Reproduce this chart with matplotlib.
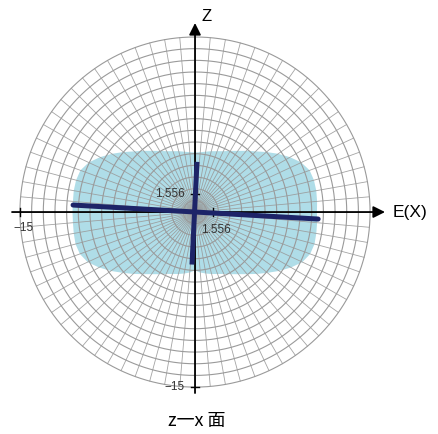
import numpy as np
import matplotlib
matplotlib.use("Agg")
import matplotlib.pyplot as plt

plt.rcParams['font.family'] = ['Liberation Sans', 'Noto Sans CJK JP', 'DejaVu Sans']

# Polar reference grid
ring_radii = list(range(1, 16))
spoke_angles_deg = list(range(0, 360, 5))

# Section envelope: radius at each angle (deg, counter-clockwise from +X)
envelope_angles_deg = list(range(0, 360, 5))
envelope_radius = [
    10.45, 10.50, 10.55, 10.55, 10.45, 10.05, 9.40, 8.70, 8.00, 7.35,
    6.85, 6.40, 6.05, 5.75, 5.55, 5.40, 5.25, 5.15, 5.10, 5.15,
    5.25, 5.40, 5.55, 5.75, 6.05, 6.40, 6.85, 7.35, 8.00, 8.70,
    9.40, 10.05, 10.45, 10.55, 10.55, 10.50, 10.50, 10.50, 10.55, 10.60,
    10.50, 10.15, 9.50, 8.80, 8.10, 7.50, 6.95, 6.50, 6.15, 5.85,
    5.65, 5.50, 5.35, 5.20, 5.00, 5.20, 5.35, 5.50, 5.65, 5.85,
    6.15, 6.50, 6.95, 7.50, 8.10, 8.80, 9.50, 10.15, 10.50, 10.60,
    10.55, 10.50,
]

# Principal directions (end points in X, Z)
major_x = [-10.45, 10.55]
major_z = [0.60, -0.60]
minor_x = [0.17, -0.26]
minor_z = [4.30, -4.50]

axis_min = -15
tick_value = 1.556
tick_label = "1.556"
min_label = "\u221215"

x_label = "E(X)"
z_label = "Z"
title = "z一x 面"

grid_color = "#9a9a9a"
fill_color = "#afdde8"
bar_color = "#1d2468"

fig = plt.figure(figsize=(4.38, 4.34), dpi=100)
ax = fig.add_axes([0, 0, 1, 1])
ax.set_xlim(-16.71, 20.82)
ax.set_ylim(-19.02, 18.17)
ax.axis("off")

# Filled envelope
th = np.deg2rad(envelope_angles_deg)
r = np.asarray(envelope_radius)
ax.fill(r * np.cos(th), r * np.sin(th), color=fill_color, lw=0, zorder=1)

# Grid rings and spokes
t = np.linspace(0, 2 * np.pi, 721)
for rr in ring_radii:
    ax.plot(rr * np.cos(t), rr * np.sin(t), color=grid_color, lw=0.8, zorder=2)
rmax = ring_radii[-1]
for a in np.deg2rad(spoke_angles_deg):
    ax.plot([0, rmax * np.cos(a)], [0, rmax * np.sin(a)],
            color=grid_color, lw=0.6, alpha=0.9, zorder=2)

# Coordinate axes with arrow heads
arrow = dict(arrowstyle="-|>,head_length=0.5,head_width=0.25", color="black",
             lw=1.3, mutation_scale=14, shrinkA=0, shrinkB=0)
ax.annotate("", xy=(16.28, 0), xytext=(-15.68, 0), arrowprops=arrow, zorder=4)
ax.annotate("", xy=(0, 16.2), xytext=(0, -15.51), arrowprops=arrow, zorder=4)

# Principal direction bars
ax.plot(major_x, major_z, color=bar_color, lw=3.6, solid_capstyle="round", zorder=5)
ax.plot(minor_x, minor_z, color=bar_color, lw=3.6, solid_capstyle="butt", zorder=5)

# Tick marks
tk = 0.35
ax.plot([axis_min, axis_min], [-tk, tk], color="black", lw=1.0, zorder=4)
ax.plot([tick_value, tick_value], [-tk, tk], color="black", lw=1.0, zorder=4)
ax.plot([-tk, tk], [axis_min, axis_min], color="black", lw=1.0, zorder=4)
ax.plot([-tk, tk], [tick_value, tick_value], color="black", lw=1.0, zorder=4)

lab = dict(fontsize=8.5, color="#333333", zorder=6)
ax.text(axis_min + 0.3, -1.35, min_label, ha="center", va="center", **lab)
ax.text(-0.9, axis_min, min_label, ha="right", va="center", **lab)
ax.text(-0.9, tick_value, tick_label, ha="right", va="center", **lab)
ax.text(tick_value + 0.2, -1.5, tick_label, ha="center", va="center", **lab)

# Axis names and caption
ax.text(1.0, 16.75, z_label, ha="center", va="center", fontsize=12)
ax.text(16.9, -0.05, x_label, ha="left", va="center", fontsize=12.5)
ax.text(0.15, -17.9, title, ha="center", va="center", fontsize=13,
        family=["Noto Sans CJK JP", "DejaVu Sans"])

fig.savefig("out.png", dpi=100)
